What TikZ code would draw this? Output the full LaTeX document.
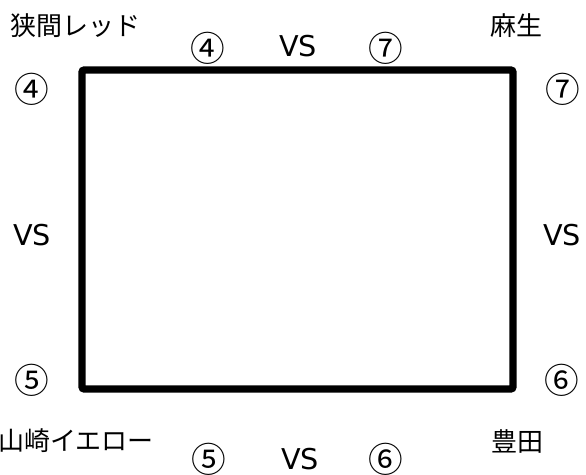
\documentclass[tikz,border=0pt]{standalone}
\usepackage{fontspec}
\setmainfont{Noto Sans CJK JP}
\newfontfamily\djv{DejaVu Sans}
\begin{document}
\begin{tikzpicture}[x=0.75pt,y=-0.75pt,
  lbl/.style={inner sep=0pt, font=\fontsize{19.5}{22}\selectfont},
  num/.style={inner sep=0pt, font=\fontsize{26}{30}\selectfont},
  vs/.style={inner sep=0pt, font=\djv\fontsize{21.5}{26}\selectfont},
  court/.style={line width=5.3pt, rounded corners=1.5pt}]
\useasboundingbox (0,0) rectangle (586,475);
\draw[court] (82,70) rectangle (513,389);
\node[lbl] (tl) at (76,26) {狭間レッド};
\node[lbl] (tr) at (516,26) {麻生};
\node[lbl] (bl) at (76,441) {山崎イエロー};
\node[lbl] (br) at (517,441) {豊田};
\node[num] (t4) at (208,48) {④};
\node[vs] (tvs) at (298,46) {VS};
\node[num] (t7) at (386,48) {⑦};
\node[num] (l4) at (32,89) {④};
\node[vs] (lvs) at (32,235) {VS};
\node[num] (l5) at (32,380) {⑤};
\node[num] (r7) at (563,89) {⑦};
\node[vs] (rvs) at (562,235) {VS};
\node[num] (r6) at (562,380) {⑥};
\node[num] (b5) at (209,459) {⑤};
\node[vs] (bvs) at (300,459) {VS};
\node[num] (b6) at (386,459) {⑥};
\end{tikzpicture}
\end{document}
